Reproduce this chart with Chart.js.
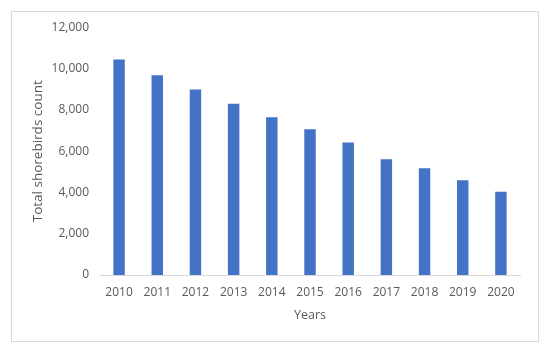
<!DOCTYPE html>
<html>
<head>
<meta charset="utf-8">
<script src="https://cdn.jsdelivr.net/npm/chart.js@4"></script>
<style>
    html, body { margin: 0; padding: 0; background: #fff; }
    #wrap { position: relative; width: 550px; height: 349px; }
    #frame {
        position: absolute; left: 11px; top: 11px;
        width: 526px; height: 329px;
        border: 1px solid #d9d9d9;
    }
    #chart { position: absolute; left: 0; top: 0; }
</style>
</head>
<body>
<div id="wrap">
    <div id="frame"></div>
    <canvas id="chart" width="550" height="349"></canvas>
</div>
<script>
// data
const years = ["2010", "2011", "2012", "2013", "2014", "2015", "2016", "2017", "2018", "2019", "2020"];
const counts = [10450, 9690, 9000, 8300, 7650, 7070, 6430, 5610, 5170, 4600, 4040];
const yTicks = [0, 2000, 4000, 6000, 8000, 10000, 12000];

const textGray = "#595959";
const font = { family: "'Open Sans', sans-serif", size: 12 };

new Chart(document.getElementById("chart"), {
    type: "bar",
    data: {
        labels: years,
        datasets: [{
            data: counts,
            backgroundColor: "#4472C4",
            borderWidth: 0,
            barPercentage: 0.3,
            categoryPercentage: 1
        }]
    },
    options: {
        responsive: false,
        animation: false,
        layout: {
            padding: { left: 30, top: 27.5, right: 30, bottom: 22 }
        },
        plugins: {
            legend: { display: false },
            tooltip: { enabled: false }
        },
        scales: {
            x: {
                grid: { display: false, drawTicks: false },
                border: { display: true, color: "#d9d9d9", width: 1 },
                ticks: { color: textGray, font: font, padding: 10, maxRotation: 0 },
                // keep the plot bottom on the 0 line of the picture
                afterFit: scale => {
                    scale.height = 52;
                },
                title: {
                    display: true,
                    text: "Years",
                    color: textGray,
                    font: { family: font.family, size: 12.5 },
                    padding: { top: 9, bottom: 4 }
                }
            },
            y: {
                min: yTicks[0],
                max: yTicks[yTicks.length - 1],
                grid: { display: false, drawTicks: false },
                border: { display: false },
                afterBuildTicks: scale => {
                    scale.ticks = yTicks.map(v => ({ value: v }));
                },
                afterFit: scale => {
                    scale.width = 70;
                },
                ticks: {
                    color: textGray,
                    font: font,
                    padding: 11,
                    callback: v => v.toLocaleString("en-US")
                },
                title: {
                    display: true,
                    text: "Total shorebirds count",
                    color: textGray,
                    font: { family: font.family, size: 13.5 },
                    padding: { top: 0, bottom: 4 }
                }
            }
        }
    }
});
</script>
</body>
</html>
